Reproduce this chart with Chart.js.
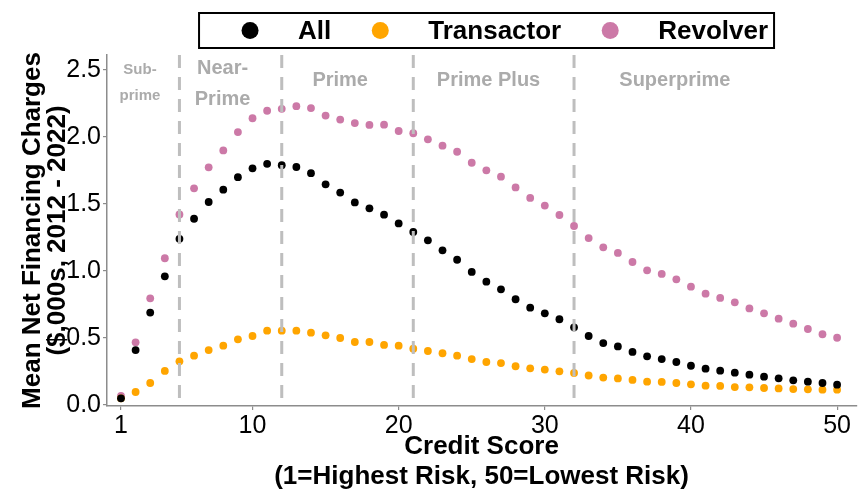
<!DOCTYPE html>
<html>
<head>
<meta charset="utf-8">
<script src="https://cdn.jsdelivr.net/npm/chart.js@4"></script>
<style>
  html, body { margin: 0; padding: 0; background: #fff; }
  #wrap { width: 860px; height: 489px; }
</style>
</head>
<body>
<div id="wrap"><canvas id="myChart" width="860" height="489"></canvas></div>
<script>
// credit score bins, 1 = highest risk
const creditScore = [1,2,3,4,5,6,7,8,9,10,11,12,13,14,15,16,17,18,19,20,21,22,23,24,25,
                     26,27,28,29,30,31,32,33,34,35,36,37,38,39,40,41,42,43,44,45,46,47,48,49,50];

// mean net financing charges, $000s
const allCharges = [0.05,0.41,0.69,0.96,1.24,1.39,1.515,1.607,1.70,1.766,1.80,1.79,1.776,1.73,1.647,
                    1.585,1.512,1.468,1.42,1.355,1.291,1.229,1.154,1.084,0.993,0.92,0.863,0.789,0.726,0.684,
                    0.64,0.58,0.515,0.462,0.437,0.396,0.363,0.343,0.321,0.293,0.271,0.256,0.241,0.226,0.211,
                    0.199,0.184,0.174,0.164,0.152];
const transactorCharges = [0.05,0.097,0.164,0.254,0.326,0.368,0.41,0.443,0.49,0.515,0.555,0.555,0.555,0.54,0.52,
                    0.50,0.47,0.47,0.448,0.443,0.42,0.403,0.386,0.368,0.343,0.321,0.313,0.289,0.274,0.264,
                    0.251,0.239,0.22,0.205,0.198,0.187,0.174,0.172,0.164,0.154,0.144,0.142,0.134,0.132,0.127,
                    0.124,0.119,0.117,0.114,0.114];
const revolverCharges = [0.067,0.468,0.796,1.095,1.422,1.617,1.774,1.90,2.037,2.14,2.196,2.21,2.23,2.216,2.16,
                    2.13,2.104,2.09,2.092,2.045,2.028,1.983,1.935,1.89,1.808,1.751,1.704,1.624,1.545,1.488,
                    1.418,1.336,1.246,1.177,1.135,1.067,1.005,0.978,0.938,0.883,0.831,0.799,0.766,0.721,0.684,
                    0.644,0.607,0.567,0.528,0.502];

const xTicks = [1, 10, 20, 30, 40, 50];
const yTicks = [0, 0.5, 1, 1.5, 2, 2.5];

// risk tier boundaries and their labels (x, y in data units)
const tierBreaks = [5, 12, 21, 32];
const tierLabels = [
  {lines: ["Sub-", "prime"], x: 2.3, y: [2.5, 2.31], size: 15},
  {lines: ["Near-", "Prime"], x: 7.95, y: [2.51, 2.28], size: 20},
  {lines: ["Prime"], x: 16, y: [2.42], size: 20},
  {lines: ["Prime Plus"], x: 26.15, y: [2.42], size: 20},
  {lines: ["Superprime"], x: 38.9, y: [2.42], size: 20}
];

const seriesNames = ["All", "Transactor", "Revolver"];
const seriesColors = ["#000000", "#FFA500", "#CC79A7"];

const FONT = "'Liberation Sans', Arial, Helvetica, sans-serif";
Chart.defaults.font.family = FONT;
Chart.defaults.color = "#000";

function toPoints(values) {
  return creditScore.map((c, i) => ({x: c, y: values[i]}));
}

const tierPlugin = {
  id: "tiers",
  afterDatasetsDraw(chart) {
    const {ctx, chartArea, scales} = chart;
    ctx.save();
    ctx.strokeStyle = "#bebebe";
    ctx.lineWidth = 3;
    ctx.setLineDash([13, 9]);
    tierBreaks.forEach(b => {
      const px = scales.x.getPixelForValue(b);
      ctx.beginPath();
      ctx.moveTo(px, chartArea.top);
      ctx.lineTo(px, chartArea.bottom);
      ctx.stroke();
    });
    ctx.setLineDash([]);
    ctx.fillStyle = "#ababab";
    ctx.textAlign = "center";
    ctx.textBaseline = "middle";
    tierLabels.forEach(t => {
      ctx.font = "bold " + t.size + "px " + FONT;
      t.lines.forEach((line, i) => {
        ctx.fillText(line, scales.x.getPixelForValue(t.x), scales.y.getPixelForValue(t.y[i]));
      });
    });
    ctx.restore();
  }
};

const legendPlugin = {
  id: "boxLegend",
  afterDraw(chart) {
    const {ctx, chartArea} = chart;
    ctx.save();
    ctx.font = "bold 26px " + FONT;
    const dotToText = 48, gap = 49, padL = 51, padR = 6;
    const widths = seriesNames.map(n => ctx.measureText(n).width);
    let total = padL + padR;
    widths.forEach((w, i) => { total += dotToText + w + (i < widths.length - 1 ? gap : 0); });
    const cx = (chartArea.left + chartArea.right) / 2 + 5;
    const left = cx - total / 2, top = 13, h = 35, cy = top + h / 2;
    ctx.strokeStyle = "#000";
    ctx.lineWidth = 2;
    ctx.strokeRect(left, top, total, h);
    let x = left + padL;
    ctx.textBaseline = "middle";
    ctx.textAlign = "left";
    seriesNames.forEach((n, i) => {
      ctx.fillStyle = seriesColors[i];
      ctx.beginPath();
      ctx.arc(x, cy, 8.5, 0, Math.PI * 2);
      ctx.fill();
      ctx.fillStyle = "#000";
      ctx.fillText(n, x + dotToText, cy + 1);
      x += dotToText + widths[i] + gap;
    });
    ctx.restore();
  }
};

new Chart(document.getElementById("myChart"), {
  type: "scatter",
  data: {
    datasets: [
      {label: seriesNames[0], data: toPoints(allCharges), backgroundColor: seriesColors[0]},
      {label: seriesNames[1], data: toPoints(transactorCharges), backgroundColor: seriesColors[1]},
      {label: seriesNames[2], data: toPoints(revolverCharges), backgroundColor: seriesColors[2]}
    ]
  },
  options: {
    responsive: false,
    animation: false,
    layout: {padding: {top: 55, right: 3, left: 0, bottom: 0}},
    elements: {point: {radius: 3.9, borderWidth: 0, hoverRadius: 3.9}},
    plugins: {
      legend: {display: false},
      tooltip: {enabled: false}
    },
    scales: {
      x: {
        type: "linear",
        min: 0.043,
        max: 51.3,
        afterBuildTicks: s => { s.ticks = xTicks.map(v => ({value: v})); },
        afterFit: s => { s.height = 83; },
        grid: {display: true, drawOnChartArea: false, drawTicks: true, tickLength: 4, color: "#8c8c8c", lineWidth: 1.2},
        border: {display: true, color: "#8c8c8c", width: 1.5},
        ticks: {font: {size: 25}, color: "#000", padding: 1, maxRotation: 0, autoSkip: false},
        title: {
          display: true,
          text: ["Credit Score", "(1=Highest Risk, 50=Lowest Risk)"],
          font: {size: 26, weight: "bold", lineHeight: 1.12},
          color: "#000",
          padding: {top: 0, bottom: -2}
        }
      },
      y: {
        min: -0.0075,
        max: 2.612,
        afterBuildTicks: s => { s.ticks = yTicks.map(v => ({value: v})); },
        afterFit: s => { s.width = 107; },
        grid: {display: true, drawOnChartArea: false, drawTicks: true, tickLength: 4, color: "#8c8c8c", lineWidth: 1.2},
        border: {display: true, color: "#8c8c8c", width: 1.5},
        ticks: {font: {size: 25}, color: "#000", padding: 2, callback: v => v.toFixed(1)},
        title: {
          display: true,
          text: ["Mean Net Financing Charges", "($,000s, 2012 - 2022)"],
          font: {size: 26, weight: "bold", lineHeight: 0.96},
          color: "#000",
          padding: {top: 20, bottom: 0}
        }
      }
    }
  },
  plugins: [tierPlugin, legendPlugin]
});
</script>
</body>
</html>
